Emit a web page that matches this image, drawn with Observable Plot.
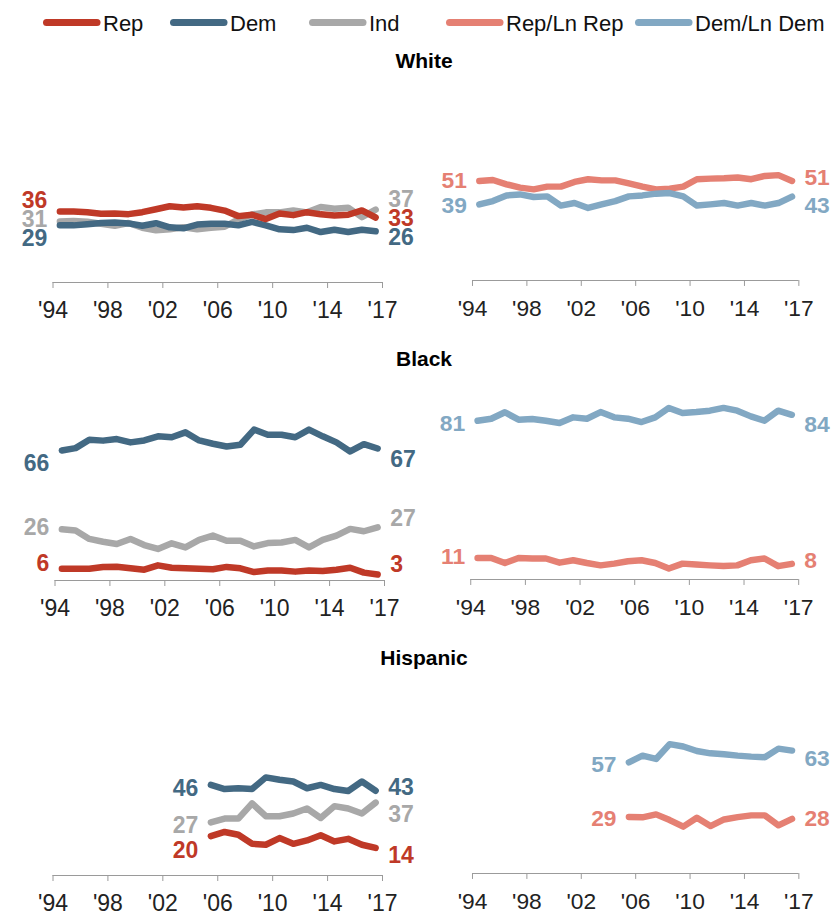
<!DOCTYPE html>
<html>
<head>
<meta charset="utf-8">
<script src="https://cdn.jsdelivr.net/npm/d3@7"></script>
<script src="https://cdn.jsdelivr.net/npm/@observablehq/plot@0.6"></script>
<style>
  html, body { margin: 0; padding: 0; background: #fff; }
  #root { position: relative; width: 836px; height: 915px; overflow: hidden; font-family: "Liberation Sans", Arial, sans-serif; }
  .panel { position: absolute; }
  .panel svg { overflow: visible; }
  .panel svg g[aria-label="x-axis tick"] { color: #9a9a9a; }
  .panel svg g[aria-label="x-axis"] .tick line { stroke: #9a9a9a; }
  #overlay { position: absolute; left: 0; top: 0; }
</style>
</head>
<body>
<div id="root"></div>
<script>
// ---------- categories / ticks ----------
const yearsAll = [1994,1995,1996,1997,1998,1999,2000,2001,2002,2003,2004,2005,2006,2007,2008,2009,2010,2011,2012,2013,2014,2015,2016,2017];
const yearsHisp = [2005,2006,2007,2008,2009,2010,2011,2012,2013,2014,2015,2016,2017];
const tickYears = [1994,1998,2002,2006,2010,2014,2018];
const tickLabels = ["'94","'98","'02","'06","'10","'14","'17"];
const groups = ["White","Black","Hispanic"];
const seriesNames = ["Rep","Dem","Ind","Rep/Ln Rep","Dem/Ln Dem"];
const seriesColors = ["#bf3927","#436983","#a8a8a8","#e58073","#82a8c3"];

// ---------- White (1994-2017) ----------
const whiteRep   = [36,36,35.7,34.9,35,34.7,35.7,37.2,38.7,38.1,38.7,37.9,36.5,33.7,34.4,32.2,35,34.2,35.7,34.6,34,34.4,36.6,33];
const whiteDem   = [29,29,29.6,30.2,30.5,30,28.8,30.1,28,27.5,29.4,29.8,29.8,29,30.8,29,27,26.6,27.8,25.6,26.8,25.6,26.8,26];
const whiteInd   = [31,31.2,30.8,29.8,28.8,30.2,27.8,26.5,27,28,27,27.8,28.3,32,34.5,35.6,35.6,36.5,35.6,38.3,37.4,38,33.2,37];
const whiteRepLn = [51,51.5,49.3,47.6,46.7,48.1,48.1,50.5,51.9,51.3,51.3,49.8,48.1,46.7,47.1,48.1,51.9,52.2,52.4,52.8,51.9,53.6,54,51];
const whiteDemLn = [39,40.7,43.6,44.1,42.8,43.1,38.4,39.7,37.2,39,40.7,43.1,43.6,44.5,44.8,43.1,38.4,39,39.7,38.4,39.7,38.4,39.7,43];

// ---------- Black (1994-2017) ----------
const blackRep   = [6,6,6,6.9,7,6.2,5.5,7.7,6.5,6.2,6,5.7,6.9,6.2,4.3,5.1,5.1,4.5,5.1,4.8,5.5,6.5,4,3];
const blackDem   = [66,67.2,71.5,71,71.8,70.1,71.1,73.2,72.7,75.2,71.1,69.4,68,68.9,76.6,74,74,72.7,76.6,73.2,70.1,65.5,69.2,67];
const blackInd   = [26,25.4,21.1,19.7,18.5,21.1,18,16,18.9,16.8,20.6,22.8,20.2,20.2,17.3,19,19.3,20.6,16.8,20.6,22.8,26.2,25,27];
const blackRepLn = [11,11,8.4,11,10.7,10.7,8.6,9.8,8.4,7.2,8.1,9.3,9.8,8.4,5.6,8.1,7.6,7.2,6.9,7.2,9.8,10.7,6.8,8];
const blackDemLn = [81,82,85.3,81.5,81.9,81,79.8,82.7,82,85.4,82.7,82,80.3,82.7,87.5,84.9,85.4,86.1,87.5,86.1,83.2,81,86.1,84];

// ---------- Hispanic (2005-2017) ----------
const hispRep   = [20,22.1,20.7,16.1,15.6,19,16.1,17.8,20.4,17.3,18.6,15.6,14];
const hispDem   = [46,43.9,44.3,43.9,49.8,48.6,47.7,44.3,46,43.9,42.9,47.7,43];
const hispInd   = [27,28.9,28.9,36.6,30.1,30.1,31.5,34,29.2,35.2,34,31.5,37];
const hispRepLn = [29,28.8,30.3,27.4,24,28.6,24.3,27.7,28.9,29.8,29.8,24.7,28];
const hispDemLn = [57,60.4,58.7,66.3,65.1,62.8,61.6,61.1,60.4,59.9,59.6,64,63];

// ---------- panels built from the arrays ----------
const panelDefs = [
  {row: "White", side: "left", years: yearsAll, order: ["Ind","Dem","Rep"], values: [whiteInd, whiteDem, whiteRep]},
  {row: "White", side: "right", years: yearsAll, order: ["Rep/Ln Rep","Dem/Ln Dem"], values: [whiteRepLn, whiteDemLn]},
  {row: "Black", side: "left", years: yearsAll, order: ["Ind","Dem","Rep"], values: [blackInd, blackDem, blackRep]},
  {row: "Black", side: "right", years: yearsAll, order: ["Rep/Ln Rep","Dem/Ln Dem"], values: [blackRepLn, blackDemLn]},
  {row: "Hispanic", side: "left", years: yearsHisp, order: ["Ind","Dem","Rep"], values: [hispInd, hispDem, hispRep]},
  {row: "Hispanic", side: "right", years: yearsHisp, order: ["Rep/Ln Rep","Dem/Ln Dem"], values: [hispRepLn, hispDemLn]}
];

// ---------- layout / style ----------
const rowLayout = {
  White:    {axisY: 281.5, titleY: 68, leftX: 0, rightX: 420},
  Black:    {axisY: 579.5, titleY: 365.5, leftX: 2, rightX: 418},
  Hispanic: {axisY: 875,   titleY: 664.5, leftX: 0, rightX: 420}
};
const labelDy = {
  White:    {left: {Rep: [-11, 1], Ind: [-1.5, -9.5], Dem: [13, 6.5]}, right: {"Rep/Ln Rep": [0, -3.5], "Dem/Ln Dem": [1, 9]}},
  Black:    {left: {Dem: [13, 11], Ind: [-1.5, -9], Rep: [-5, -9.5]}, right: {"Dem/Ln Dem": [3, 10], "Rep/Ln Rep": [-1, -3]}},
  Hispanic: {left: {Dem: [4, -3], Ind: [3, 12], Rep: [15, 8]}, right: {"Dem/Ln Dem": [2, 8], "Rep/Ln Rep": [2, 0]}}
};
const FONT = "'Liberation Sans', Arial, Helvetica, sans-serif";
const plotH = 197, mTop = 12, mBottom = 40;

const root = document.getElementById("root");
const fmt = d3.format("d");
const xPos = d => d.year + 0.5;

for (const def of panelDefs) {
  const L = rowLayout[def.row];
  const rows = [];
  def.order.forEach((name, k) => {
    def.years.forEach((yr, i) => rows.push({series: name, year: yr, value: def.values[k][i]}));
  });
  const marks = [
    Plot.ruleY([0], {stroke: "#9a9a9a", strokeWidth: 1}),
    Plot.text(tickYears, {x: d => d, y: () => 0, text: (d, i) => tickLabels[i], dy: 28, fontSize: 23, fill: "#222", textAnchor: "middle"}),
    Plot.line(rows, {x: xPos, y: "value", z: "series", stroke: "series", strokeWidth: 6.5, strokeLinecap: "round", strokeLinejoin: "round"})
  ];
  for (const name of def.order) {
    const s = rows.filter(r => r.series === name);
    const [dy0, dy1] = labelDy[def.row][def.side][name];
    marks.push(Plot.text([s[0]], {x: xPos, y: "value", text: d => fmt(Math.round(d.value)), fill: "series", textAnchor: "end", dx: -12.5, dy: dy0, fontSize: 23, fontWeight: "bold"}));
    marks.push(Plot.text([s[s.length - 1]], {x: xPos, y: "value", text: d => fmt(Math.round(d.value)), fill: "series", textAnchor: "start", dx: 12.5, dy: dy1, fontSize: 23, fontWeight: "bold"}));
  }
  const svg = Plot.plot({
    width: 420,
    height: mTop + plotH + mBottom,
    marginTop: mTop, marginBottom: mBottom, marginLeft: 52.5, marginRight: 38,
    x: {domain: [1994, 2018], ticks: tickYears, tickFormat: () => "", tickSize: 6, label: null},
    y: {domain: [0, 100], axis: null},
    color: {domain: seriesNames, range: seriesColors},
    style: {fontFamily: FONT, fontSize: "23px", overflow: "visible", background: "none", color: "#9a9a9a"},
    marks
  });
  const div = document.createElement("div");
  div.className = "panel";
  div.style.left = (def.side === "left" ? L.leftX : L.rightX) + "px";
  div.style.top = (L.axisY - plotH - mTop) + "px";
  div.appendChild(svg);
  root.appendChild(div);
}

// ---------- legend and titles ----------
const legendX = [43, 170, 309, 446, 635];
const overlay = d3.select(root).append("svg").attr("id", "overlay").attr("width", 836).attr("height", 915)
  .style("font-family", FONT);
const items = overlay.selectAll("g.item").data(seriesNames).join("g").attr("class", "item")
  .attr("transform", (d, i) => `translate(${legendX[i]},0)`);
items.append("line").attr("x1", 3.5).attr("x2", 54).attr("y1", 22.5).attr("y2", 22.5)
  .attr("stroke", (d, i) => seriesColors[i]).attr("stroke-width", 7).attr("stroke-linecap", "round");
items.append("text").attr("x", 60).attr("y", 30.5).attr("font-size", 22).attr("fill", "#111").text(d => d);

overlay.selectAll("text.title").data(groups).join("text").attr("class", "title")
  .attr("x", 424).attr("y", d => rowLayout[d].titleY).attr("text-anchor", "middle")
  .attr("font-size", 21).attr("font-weight", "bold").attr("fill", "#000").text(d => d);
</script>
</body>
</html>
